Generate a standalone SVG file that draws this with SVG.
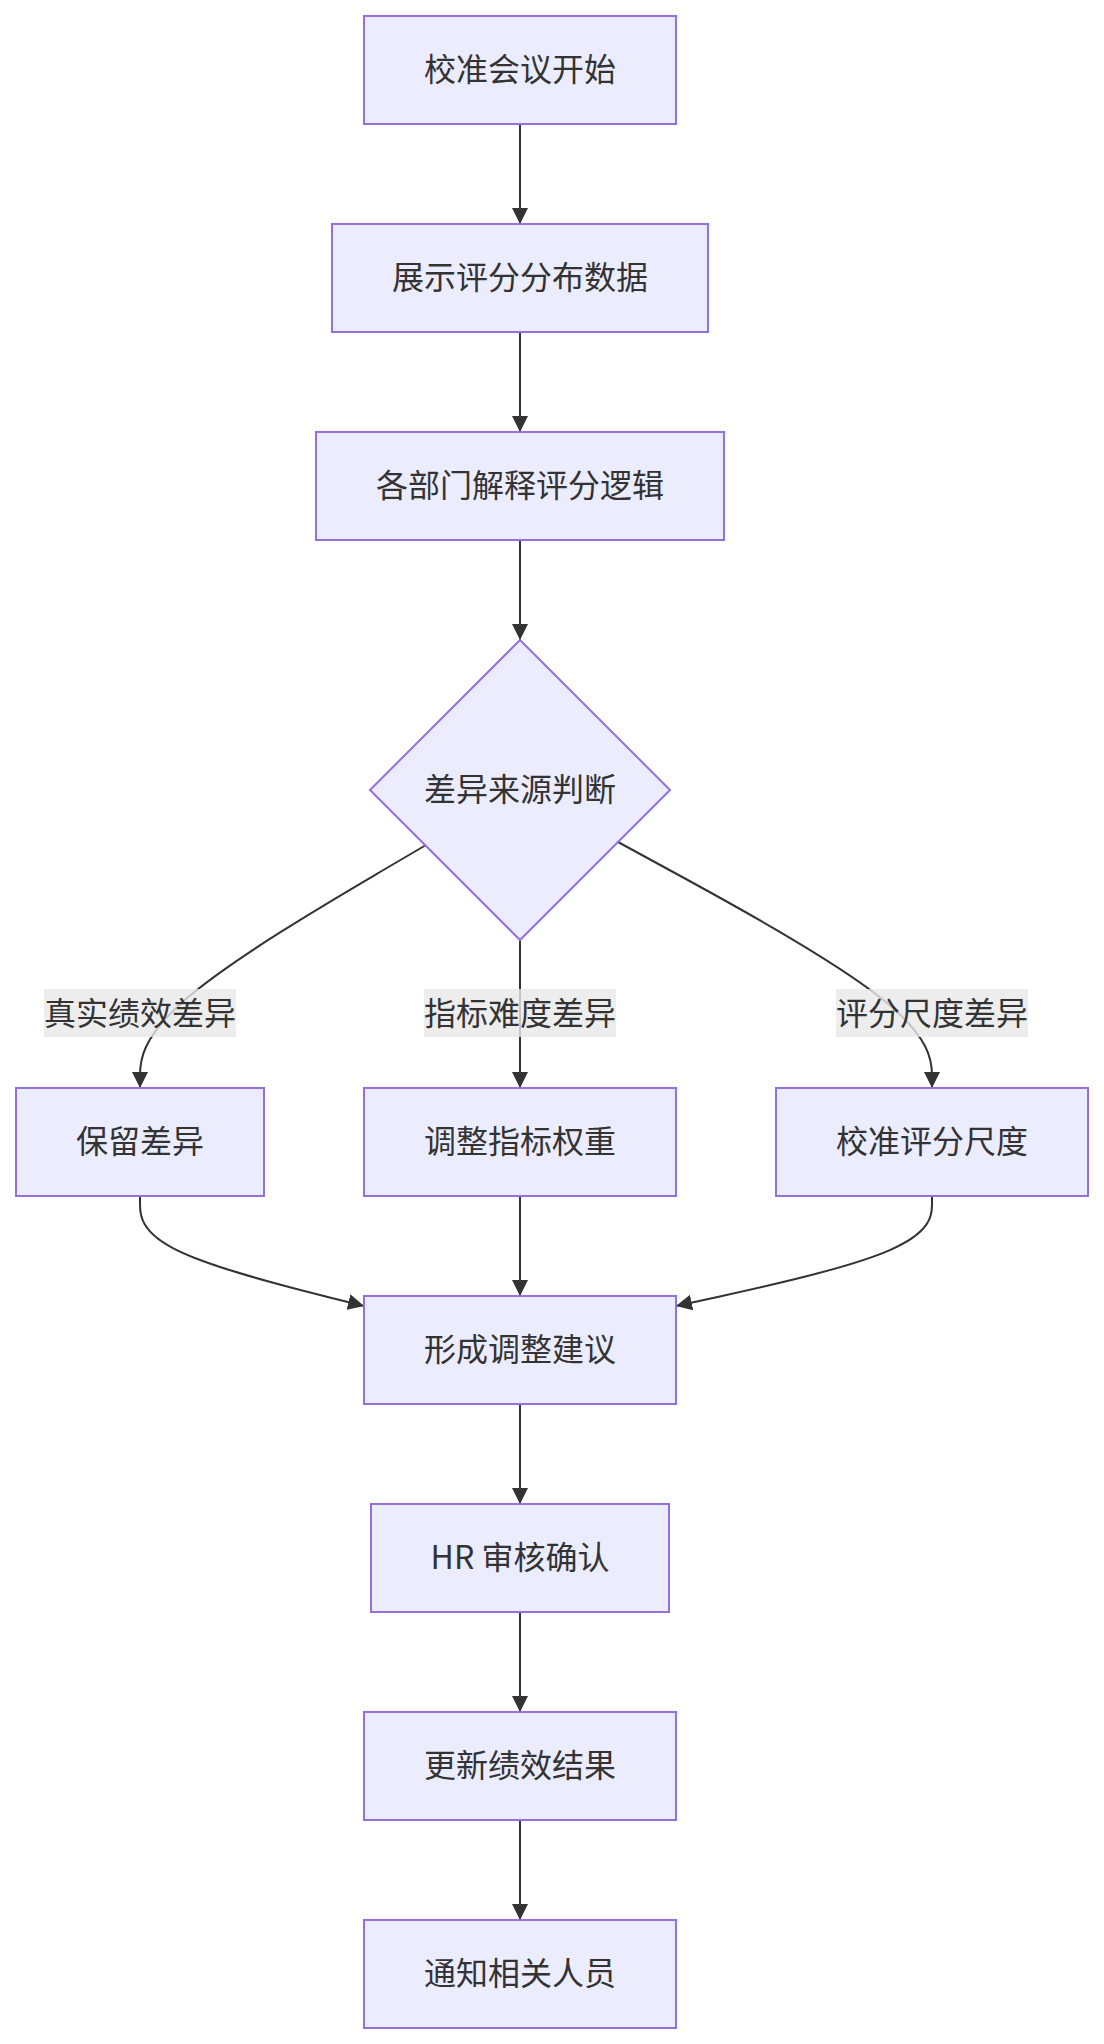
<svg xmlns="http://www.w3.org/2000/svg" width="1104" height="2044" viewBox="0 0 1104 2044">
<style>
.node rect, .node polygon { fill: #ECECFF; stroke: #9370DB; stroke-width: 2; }
.node text, .lbl text { font-family: "Noto Sans CJK SC", "Noto Sans", sans-serif; font-size: 32px; fill: #333333; text-anchor: middle; dominant-baseline: central; }
.edge { fill: none; stroke: #333333; stroke-width: 2; marker-end: url(#arrow); }
.lbl rect { fill: rgba(232,232,232,0.8); }
</style>
<defs>
<marker id="arrow" viewBox="0 0 10 10" refX="10" refY="5" markerWidth="16" markerHeight="16" markerUnits="userSpaceOnUse" orient="auto">
<path d="M0,0 L10,5 L0,10 z" fill="#333333"/>
</marker>
</defs>
<rect width="1104" height="2044" fill="#ffffff"/>
<g id="connectors">
<path class="edge" d="M520,124 L520,224"/>
<path class="edge" d="M520,332 L520,432"/>
<path class="edge" d="M520,540 L520,640"/>
<path class="edge" d="M426,845 L378.3,873 C330.7,901 235.3,957 187.7,997.5 C140,1038 140,1063 140,1075.5 L140,1088"/>
<path class="edge" d="M520,940 L520,1088"/>
<path class="edge" d="M618,842 L670.3,870.5 C722.7,899 827.3,956 879.7,997 C932,1038 932,1063 932,1075.5 L932,1088"/>
<path class="edge" d="M140,1196 L140,1205 C140,1214 140,1232 177.3,1250.3 C214.7,1268.7 289.3,1287.3 326.7,1296.7 L364,1306"/>
<path class="edge" d="M520,1196 L520,1296"/>
<path class="edge" d="M932,1196 L932,1205 C932,1214 932,1232 889.3,1250.3 C846.7,1268.7 761.3,1287.3 718.7,1296.7 L676,1306"/>
<path class="edge" d="M520,1404 L520,1504"/>
<path class="edge" d="M520,1612 L520,1712"/>
<path class="edge" d="M520,1820 L520,1920"/>
<g class="lbl"><rect x="44" y="989" width="192" height="48"/><text x="140" y="1011">真实绩效差异</text></g>
<g class="lbl"><rect x="424" y="989" width="192" height="48"/><text x="520" y="1011">指标难度差异</text></g>
<g class="lbl"><rect x="836" y="989" width="192" height="48"/><text x="932" y="1011">评分尺度差异</text></g>
</g>
<g id="n1" class="node"><rect x="364" y="16" width="312" height="108"/><text x="520" y="67">校准会议开始</text></g>
<g id="n2" class="node"><rect x="332" y="224" width="376" height="108"/><text x="520" y="275">展示评分分布数据</text></g>
<g id="n3" class="node"><rect x="316" y="432" width="408" height="108"/><text x="520" y="483">各部门解释评分逻辑</text></g>
<g id="n4" class="node"><polygon points="520,640 670,790 520,940 370,790"/><text x="520" y="787">差异来源判断</text></g>
<g id="n5" class="node"><rect x="16" y="1088" width="248" height="108"/><text x="140" y="1139">保留差异</text></g>
<g id="n6" class="node"><rect x="364" y="1088" width="312" height="108"/><text x="520" y="1139">调整指标权重</text></g>
<g id="n7" class="node"><rect x="776" y="1088" width="312" height="108"/><text x="932" y="1139">校准评分尺度</text></g>
<g id="n8" class="node"><rect x="364" y="1296" width="312" height="108"/><text x="520" y="1347">形成调整建议</text></g>
<g id="n9" class="node"><rect x="371" y="1504" width="298" height="108"/><text x="520" y="1555">HR 审核确认</text></g>
<g id="n10" class="node"><rect x="364" y="1712" width="312" height="108"/><text x="520" y="1763">更新绩效结果</text></g>
<g id="n11" class="node"><rect x="364" y="1920" width="312" height="108"/><text x="520" y="1971">通知相关人员</text></g>
</svg>
